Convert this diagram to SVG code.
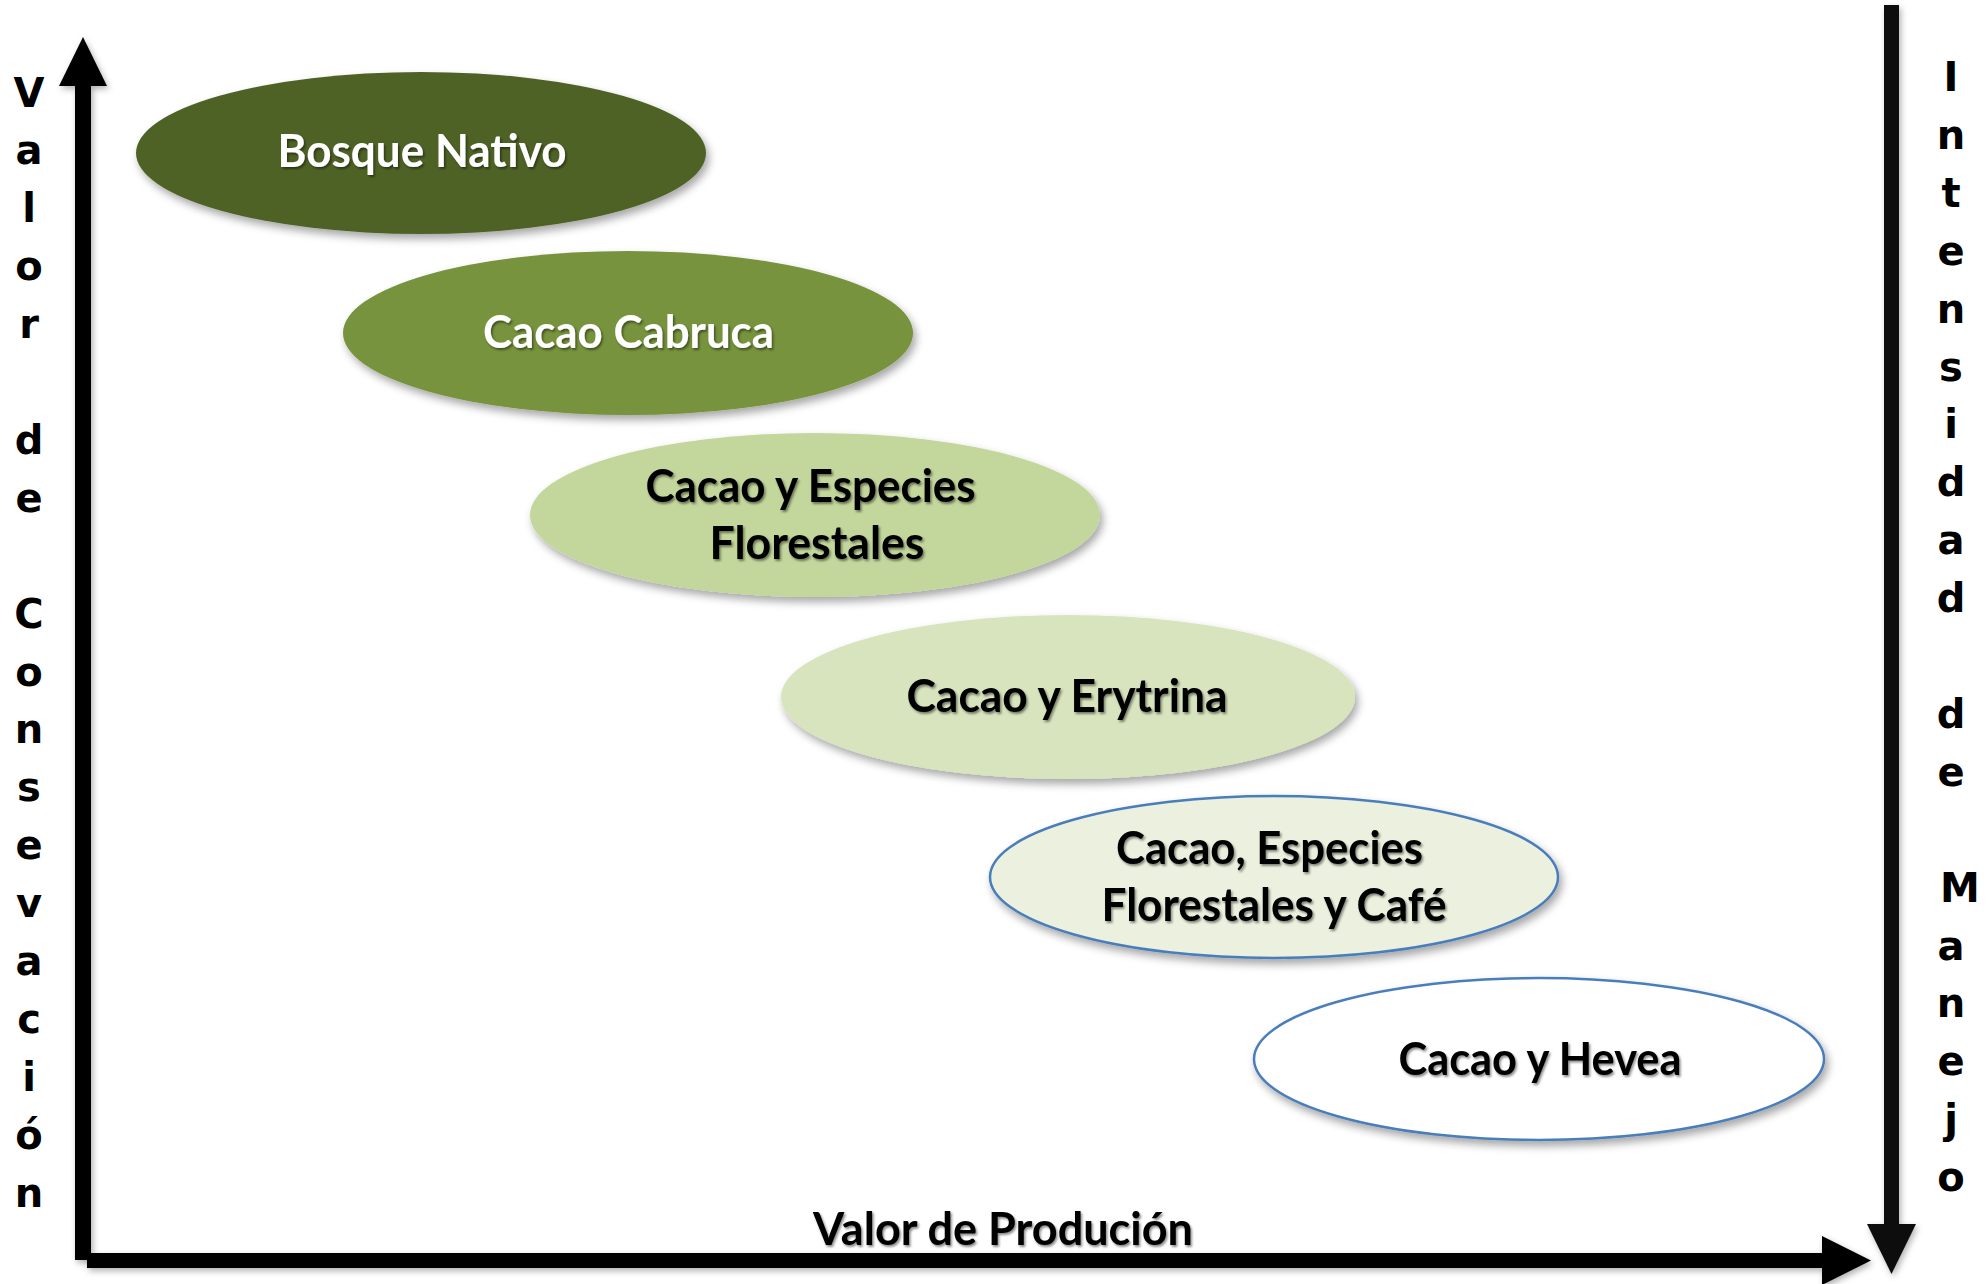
<svg xmlns="http://www.w3.org/2000/svg" width="1987" height="1284" viewBox="0 0 1987 1284">
<defs>
<filter id="shadow" x="-10%" y="-10%" width="125%" height="135%">
<feDropShadow dx="3" dy="5" stdDeviation="4" flood-color="#000" flood-opacity="0.35"/>
</filter>
<filter id="ashadow" x="-20%" y="-5%" width="140%" height="110%">
<feDropShadow dx="2" dy="3" stdDeviation="3" flood-color="#000" flood-opacity="0.3"/>
</filter>
<filter id="tshadow" x="-5%" y="-20%" width="110%" height="150%">
<feDropShadow dx="1.5" dy="2" stdDeviation="1.2" flood-color="#000" flood-opacity="0.45"/>
</filter>
</defs>
<style>
.lbl{font-family:Lato,"Open Sans","Liberation Sans",sans-serif;font-weight:bold;font-size:45px;text-anchor:middle;}
.w{fill:#ffffff;}
.k{fill:#000000;}
.ax{font-family:"DejaVu Sans","Liberation Sans",sans-serif;font-weight:bold;font-size:40px;fill:#000;}
.blue{stroke:#4a7ebb;stroke-width:2.5;}
</style>
<rect width="1987" height="1284" fill="#ffffff"/>

<g id="connectors">
<g filter="url(#ashadow)">
<rect x="75" y="80" width="16" height="1180" fill="#000"/>
<polygon points="59,86 83,37 107,86" fill="#000"/>
</g>
<g filter="url(#ashadow)">
<rect x="87" y="1253" width="1740" height="15" fill="#000"/>
<polygon points="1822,1236 1871,1260.5 1822,1285" fill="#000"/>
</g>
<g filter="url(#ashadow)">
<rect x="1884" y="5" width="15" height="1225" fill="#0d0d0d"/>
<polygon points="1867,1224 1891.5,1274 1916,1224" fill="#0d0d0d"/>
</g>
</g>

<g id="axis-y-label">
<text class="ax" text-anchor="middle">
<tspan x="29" y="106.5">V</tspan><tspan x="29" dy="57.9">a</tspan><tspan x="29" dy="57.9">l</tspan><tspan x="29" dy="57.9">o</tspan><tspan x="29" dy="57.9">r</tspan><tspan x="29" dy="115.8">d</tspan><tspan x="29" dy="57.9">e</tspan><tspan x="29" dy="115.8">C</tspan><tspan x="29" dy="57.9">o</tspan><tspan x="29" dy="57.9">n</tspan><tspan x="29" dy="57.9">s</tspan><tspan x="29" dy="57.9">e</tspan><tspan x="29" dy="57.9">v</tspan><tspan x="29" dy="57.9">a</tspan><tspan x="29" dy="57.9">c</tspan><tspan x="29" dy="57.9">i</tspan><tspan x="29" dy="57.9">ó</tspan><tspan x="29" dy="57.9">n</tspan>
</text>
</g>

<g id="axis-right-label">
<text class="ax" text-anchor="middle">
<tspan x="1951" y="91">I</tspan><tspan x="1951" dy="57.9">n</tspan><tspan x="1951" dy="57.9">t</tspan><tspan x="1951" dy="57.9">e</tspan><tspan x="1951" dy="57.9">n</tspan><tspan x="1951" dy="57.9">s</tspan><tspan x="1951" dy="57.9">i</tspan><tspan x="1951" dy="57.9">d</tspan><tspan x="1951" dy="57.9">a</tspan><tspan x="1951" dy="57.9">d</tspan><tspan x="1951" dy="115.8">d</tspan><tspan x="1951" dy="57.9">e</tspan><tspan x="1960" dy="115.8">M</tspan><tspan x="1951" dy="57.9">a</tspan><tspan x="1951" dy="57.9">n</tspan><tspan x="1951" dy="57.9">e</tspan><tspan x="1951" dy="57.9">j</tspan><tspan x="1951" dy="57.9">o</tspan>
</text>
</g>

<g id="axis-x-label">
<text class="lbl k" x="1003" y="1245" textLength="380" lengthAdjust="spacingAndGlyphs" filter="url(#tshadow)">Valor de Produción</text>
</g>

<g id="bosque-nativo">
<ellipse cx="421" cy="153" rx="285" ry="81" fill="#4f6228" filter="url(#shadow)"/>
<text class="lbl w" x="422" y="167" textLength="289" lengthAdjust="spacingAndGlyphs" filter="url(#tshadow)">Bosque Nativo</text>
</g>

<g id="cacao-cabruca">
<ellipse cx="628" cy="333" rx="285" ry="82" fill="#77933c" filter="url(#shadow)"/>
<text class="lbl w" x="628.5" y="348" textLength="291" lengthAdjust="spacingAndGlyphs" filter="url(#tshadow)">Cacao Cabruca</text>
</g>

<g id="cacao-especies-florestales">
<ellipse cx="815" cy="515" rx="285" ry="82" fill="#c3d69b" filter="url(#shadow)"/>
<text class="lbl k" filter="url(#tshadow)">
<tspan x="816" y="502" textLength="330" lengthAdjust="spacingAndGlyphs">Cacao y Especies</tspan>
<tspan x="817" y="559" textLength="215" lengthAdjust="spacingAndGlyphs">Florestales</tspan>
</text>
</g>

<g id="cacao-erytrina">
<ellipse cx="1068" cy="697" rx="287" ry="82" fill="#d7e4bd" filter="url(#shadow)"/>
<text class="lbl k" x="1067" y="712" textLength="321" lengthAdjust="spacingAndGlyphs" filter="url(#tshadow)">Cacao y Erytrina</text>
</g>

<g id="cacao-especies-cafe">
<ellipse cx="1274" cy="877" rx="284" ry="81" fill="#ebf1de" class="blue" filter="url(#shadow)"/>
<text class="lbl k" filter="url(#tshadow)">
<tspan x="1275" y="864" textLength="307" lengthAdjust="spacingAndGlyphs">Cacao, Especies</tspan>
<tspan x="1274" y="921" textLength="345" lengthAdjust="spacingAndGlyphs">Florestales y Café</tspan>
</text>
</g>

<g id="cacao-hevea">
<ellipse cx="1539" cy="1059" rx="285" ry="81" fill="#ffffff" class="blue" filter="url(#shadow)"/>
<text class="lbl k" x="1540" y="1075" textLength="283" lengthAdjust="spacingAndGlyphs" filter="url(#tshadow)">Cacao y Hevea</text>
</g>
</svg>
